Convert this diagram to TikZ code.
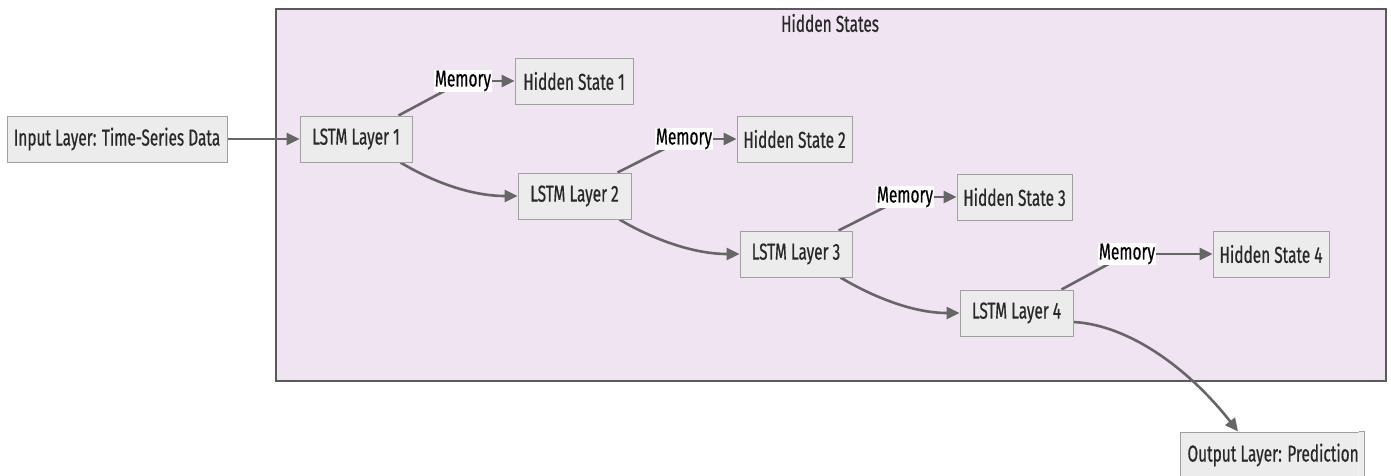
\documentclass[tikz,border=0pt]{standalone}
\usepackage{fontspec}
\setmainfont{Fira Sans}[FakeStretch=0.67,FakeBold=0.5]
\usetikzlibrary{arrows.meta,backgrounds}
\definecolor{clfill}{RGB}{240,228,242}
\definecolor{clline}{RGB}{90,90,90}
\definecolor{bxfill}{RGB}{236,236,236}
\definecolor{bxline}{RGB}{160,160,160}
\definecolor{txt}{RGB}{40,40,40}
\definecolor{edg}{RGB}{102,102,102}
\begin{document}
\begin{tikzpicture}[x=1pt,y=-1pt,
  lab/.style={font=\fontsize{23}{27}\selectfont},
  box/.style={lab, draw=bxline, fill=bxfill, line width=1pt, minimum height=46pt,
    inner xsep=6pt, inner ysep=0pt, text=txt},
  lbl/.style={lab, fill=white, inner xsep=1pt, inner ysep=1pt, text=black},
  conn/.style={draw=edg, line width=2.6pt, -{Triangle[length=13pt,width=12pt]}},
  plainedge/.style={draw=edg, line width=2.6pt},
]
\clip (0,0) rectangle (1391,475);
% nodes
\node[box, minimum width=220pt] (in) at (117,139) {Input Layer: Time-Series Data};
\node[box, minimum width=112pt] (l1) at (356,139) {LSTM Layer 1};
\node[box, minimum width=113pt] (l2) at (574.5,196) {LSTM Layer 2};
\node[box, minimum width=112pt] (l3) at (796,254) {LSTM Layer 3};
\node[box, minimum width=113pt] (l4) at (1016.5,313) {LSTM Layer 4};
\node[box, minimum width=118pt] (h1) at (574,81) {Hidden State 1};
\node[box, minimum width=115pt] (h2) at (794.5,139) {Hidden State 2};
\node[box, minimum width=115pt] (h3) at (1014.5,197) {Hidden State 3};
\node[box, minimum width=116pt] (h4) at (1271,254) {Hidden State 4};
\node[lbl] (m1) at (463,81) {Memory};
\node[lbl] (m2) at (684,139) {Memory};
\node[lbl] (m3) at (905,197) {Memory};
\node[lbl] (m4) at (1127,254) {Memory};
\node[lab, text=txt] (title) at (830,23) {Hidden States};
\begin{scope}
  \clip (1170,425) rectangle (1358.5,480);
  \node[box, anchor=west, inner xsep=7pt] (out) at (1180,455) {\makebox[169pt][l]{Output Layer: Prediction}};
\end{scope}
\fill[bxfill] ([xshift=-5pt]out.north east) rectangle (out.south east);
\draw[bxline, line width=1pt] ([xshift=-5pt]out.north east) -- (out.north east) -- (out.south east);
% background: cluster and connectors
\begin{scope}[on background layer]
  \draw[fill=clfill, draw=clline, line width=1.5pt] (276,9) rectangle (1386,381);
  \draw[conn] (in.east) -- (l1.west);
  \draw[conn] ([xshift=-12pt]l1.south east) .. controls +(30,18) and +(-48,0) .. (l2.west);
  \draw[conn] ([xshift=-12pt]l2.south east) .. controls +(30,18) and +(-48,0) .. (l3.west);
  \draw[conn] ([xshift=-12pt]l3.south east) .. controls +(30,18) and +(-48,0) .. (l4.west);
  \draw[plainedge] ([xshift=-14pt]l1.north east) -- (m1.center);
  \draw[plainedge] ([xshift=-14pt]l2.north east) -- (m2.center);
  \draw[plainedge] ([xshift=-14pt]l3.north east) -- (m3.center);
  \draw[plainedge] ([xshift=-12pt]l4.north east) -- (m4.center);
  \draw[conn] (m1.east) -- (m1.east -| h1.west);
  \draw[conn] (m2.east) -- (m2.east -| h2.west);
  \draw[conn] (m3.east) -- (m3.east -| h3.west);
  \draw[conn] (m4.east) -- (m4.east -| h4.west);
  \draw[conn] ([yshift=-9pt]l4.east) .. controls (1130,325) and (1190,370) .. ([xshift=58pt]out.north west);
\end{scope}
\end{tikzpicture}
\end{document}
